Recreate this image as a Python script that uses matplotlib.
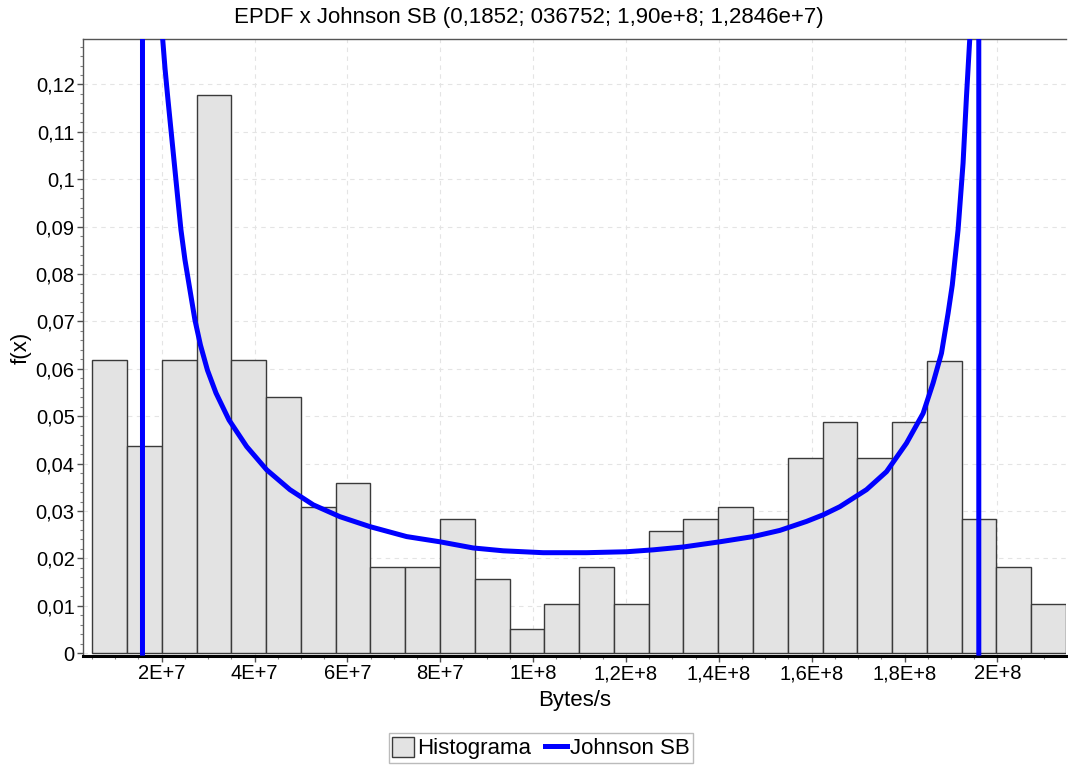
import numpy as np
import matplotlib
matplotlib.use("Agg")
import matplotlib.pyplot as plt
from matplotlib.ticker import FixedLocator, MultipleLocator, FuncFormatter
from matplotlib.patches import Patch
from matplotlib.lines import Line2D

plt.rcParams['font.family'] = ['Liberation Sans', 'DejaVu Sans']

# histogram (relative frequency per bin)
bin_start = 5.06e6
bin_width = 7.49e6
freq = [0.0618, 0.0437, 0.0618, 0.1178, 0.0618, 0.0540, 0.0309, 0.0360,
        0.0181, 0.0181, 0.0283, 0.0157, 0.0051, 0.0104, 0.0181, 0.0104,
        0.0257, 0.0283, 0.0309, 0.0284, 0.0411, 0.0487, 0.0411, 0.0487,
        0.0617, 0.0284, 0.0181, 0.0104]

# fitted Johnson SB curve, scaled to the bin width (peaks at both ends are off-scale)
jsb_x = [1.587e7, 1.60e7,
         2.022e7, 2.073e7, 2.130e7, 2.201e7, 2.272e7, 2.351e7, 2.416e7, 2.502e7,
         2.610e7, 2.717e7, 2.836e7, 2.987e7, 3.170e7, 3.451e7, 3.831e7, 4.261e7,
         4.763e7, 5.265e7, 5.840e7, 6.486e7, 7.276e7, 7.993e7, 8.710e7, 9.356e7,
         1.0217e8, 1.1152e8, 1.2013e8, 1.2586e8, 1.3232e8, 1.4022e8, 1.4739e8,
         1.5314e8, 1.5889e8, 1.6250e8, 1.6606e8, 1.7181e8, 1.7612e8, 1.8042e8,
         1.8400e8, 1.8615e8, 1.8796e8, 1.8938e8, 1.9029e8, 1.9153e8, 1.9261e8,
         1.9334e8, 1.9405e8,
         1.958e8, 1.960e8]
jsb_y = [0.0, 5.0,
         0.1296, 0.1233, 0.1174, 0.1104, 0.1034, 0.0956, 0.0893, 0.0830,
         0.0766, 0.0703, 0.0650, 0.0597, 0.0549, 0.0492, 0.0436, 0.0387,
         0.0345, 0.0313, 0.0288, 0.0267, 0.0246, 0.0235, 0.0222, 0.0216,
         0.0212, 0.0212, 0.0214, 0.0218, 0.0224, 0.0235, 0.0246,
         0.0259, 0.0278, 0.0292, 0.0309, 0.0345, 0.0383, 0.0443,
         0.0506, 0.0570, 0.0633, 0.0717, 0.0777, 0.0893, 0.1034,
         0.1174, 0.1296,
         5.0, 0.0]

x_ticks = [2e7, 4e7, 6e7, 8e7, 1e8, 1.2e8, 1.4e8, 1.6e8, 1.8e8, 2e8]
x_labels = ['2E+7', '4E+7', '6E+7', '8E+7', '1E+8', '1,2E+8', '1,4E+8',
            '1,6E+8', '1,8E+8', '2E+8']

fig = plt.figure(figsize=(10.68, 7.69), dpi=100)
ax = fig.add_axes([83 / 1068, 1 - 656 / 769, (1066 - 83) / 1068, (656 - 39) / 769])

edges = bin_start + bin_width * np.arange(len(freq) + 1)
ax.bar(edges[:-1], freq, width=bin_width, align='edge', color='#e3e3e3',
       edgecolor='#3a3a3a', linewidth=1.0, zorder=2)
ax.plot(jsb_x, jsb_y, color='#0000ff', linewidth=3.6, zorder=3,
        solid_joinstyle='round')

ax.set_xlim(3.06e6, edges[-1])
ax.set_ylim(-0.0006, 0.1296)

ax.xaxis.set_major_locator(FixedLocator(x_ticks))
ax.set_xticklabels(x_labels)
ax.xaxis.set_minor_locator(MultipleLocator(5e6))
ax.yaxis.set_major_locator(MultipleLocator(0.01))
ax.yaxis.set_minor_locator(MultipleLocator(0.002))
ax.yaxis.set_major_formatter(FuncFormatter(
    lambda v, p: ('%g' % round(v, 4)).replace('.', ',')))

ax.tick_params(axis='both', which='major', labelsize=14.5, length=4,
               color='#505050', width=1, pad=2)
ax.tick_params(axis='both', which='minor', length=2.5, color='#808080', width=0.8)

ax.grid(True, which='major', color='#e4e4e4', linestyle=(0, (4, 4)),
        linewidth=0.8, zorder=0)
ax.set_axisbelow(True)

ax.spines['right'].set_visible(False)
ax.spines['top'].set_color('#555555')
ax.spines['top'].set_linewidth(1.0)
ax.spines['left'].set_color('#555555')
ax.spines['left'].set_linewidth(1.0)
ax.spines['bottom'].set_color('#000000')
ax.spines['bottom'].set_linewidth(2.2)

ax.set_xlabel('Bytes/s', fontsize=16, labelpad=5)
ax.set_ylabel('f(x)', fontsize=16, labelpad=3)

fig.text(529 / 1068, 1 - 18 / 769,
         'EPDF x Johnson SB (0,1852; 036752; 1,90e+8; 1,2846e+7)',
         ha='center', va='center', fontsize=16)

handles = [Patch(facecolor='#e3e3e3', edgecolor='#3a3a3a', linewidth=1.0),
           Line2D([0], [0], color='#0000ff', linewidth=3.6)]
leg = fig.legend(handles, ['Histograma', 'Johnson SB'], loc='center',
                 bbox_to_anchor=(541 / 1068, 1 - 748 / 769), ncol=2,
                 fontsize=16, frameon=True, fancybox=False, handlelength=1.0,
                 handleheight=1.0, handletextpad=0.15, columnspacing=0.6,
                 borderpad=0.15, borderaxespad=0)
leg.get_frame().set_edgecolor('#aaaaaa')
leg.get_frame().set_linewidth(1.0)

fig.savefig('out.png', dpi=100)
